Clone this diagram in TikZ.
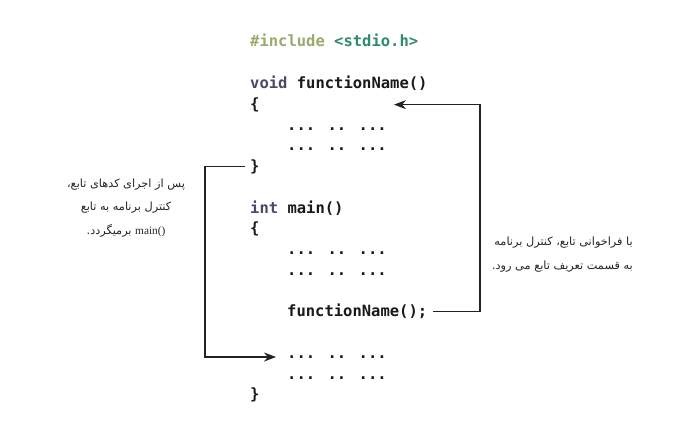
\documentclass[tikz,border=0pt]{standalone}
\usepackage{fontspec}
\usetikzlibrary{arrows.meta}
\TeXXeTstate=1
\newfontfamily\codefont{DejaVu Sans Mono}
\newfontfamily\fafont[Script=Arabic]{DejaVu Sans}
\newfontfamily\latinserif{Liberation Serif}
\definecolor{inccol}{HTML}{9AAA6A}
\definecolor{hdrcol}{HTML}{2E8B6E}
\definecolor{kwcol}{HTML}{4A4A66}
\definecolor{codecol}{HTML}{1A1A1A}
\definecolor{linecol}{HTML}{222222}
\begin{document}
\begin{tikzpicture}[x=1pt,y=-1pt,
  code/.style={anchor=base west, inner sep=0pt, font=\codefont\bfseries\fontsize{15.5}{18}\selectfont, text=codecol},
  note/.style={inner sep=0pt, font=\fafont\fontsize{11.3}{13}\selectfont, text=black!85},
  flow/.style={draw=linecol, line width=1.1pt, -{Stealth[length=12pt,width=9pt]}}]
\useasboundingbox[fill=white] (0,0) rectangle (700,422);
% code lines
\node[code] (inc) at (250,{47}) {\textcolor{inccol}{\#include} \textcolor{hdrcol}{<stdio.h>}};
\node[code] (fdef) at (250,{47+20.76*2}) {\textcolor{kwcol}{void} functionName()};
\node[code] (ob1) at (250,{47+20.76*3}) {\{};
\node[code] (d1) at (287,{47+20.76*4}) {... .. ...};
\node[code] (d2) at (287,{47+20.76*5}) {... .. ...};
\node[code] (cb1) at (250,{47+20.76*6}) {\}};
\node[code] (mdef) at (250,{47+20.76*8}) {\textcolor{kwcol}{int} main()};
\node[code] (ob2) at (250,{47+20.76*9}) {\{};
\node[code] (d3) at (287,{47+20.76*10}) {... .. ...};
\node[code] (d4) at (287,{47+20.76*11}) {... .. ...};
\node[code] (fn) at (287,{47+20.76*13}) {functionName();};
\node[code] (d5) at (287,{47+20.76*15}) {... .. ...};
\node[code] (d6) at (287,{47+20.76*16}) {... .. ...};
\node[code] (cb2) at (250,{47+20.76*17}) {\}};
% notes
\node[note] (l1) at (126,185) {\beginR پس از اجرای کدهای تابع،\endR};
\node[note] (l2) at (126,208) {\beginR کنترل برنامه به تابع\endR};
\node[note] (l3) at (126,231) {\beginR\beginL{\latinserif main()}\endL{} برمیگردد.\endR};
\node[note,anchor=east] (r1) at (633,243) {\beginR با فراخوانی تابع، کنترل برنامه\endR};
\node[note,anchor=east] (r2) at (633,267) {\beginR به قسمت تعریف تابع می رود.\endR};
% connectors
\coordinate (rx) at (480,0);
\coordinate (rtip) at (394,0);
\coordinate (lx) at (205,0);
\coordinate (ltip) at (276,0);
\draw[flow] ([xshift=6pt]fn.east) -| (rx |- ob1.east) -- (rtip |- ob1.east);
\draw[flow] ([xshift=-5pt]cb1.west) -| (lx |- d5.west) -- (ltip |- d5.west);
\end{tikzpicture}
\end{document}
